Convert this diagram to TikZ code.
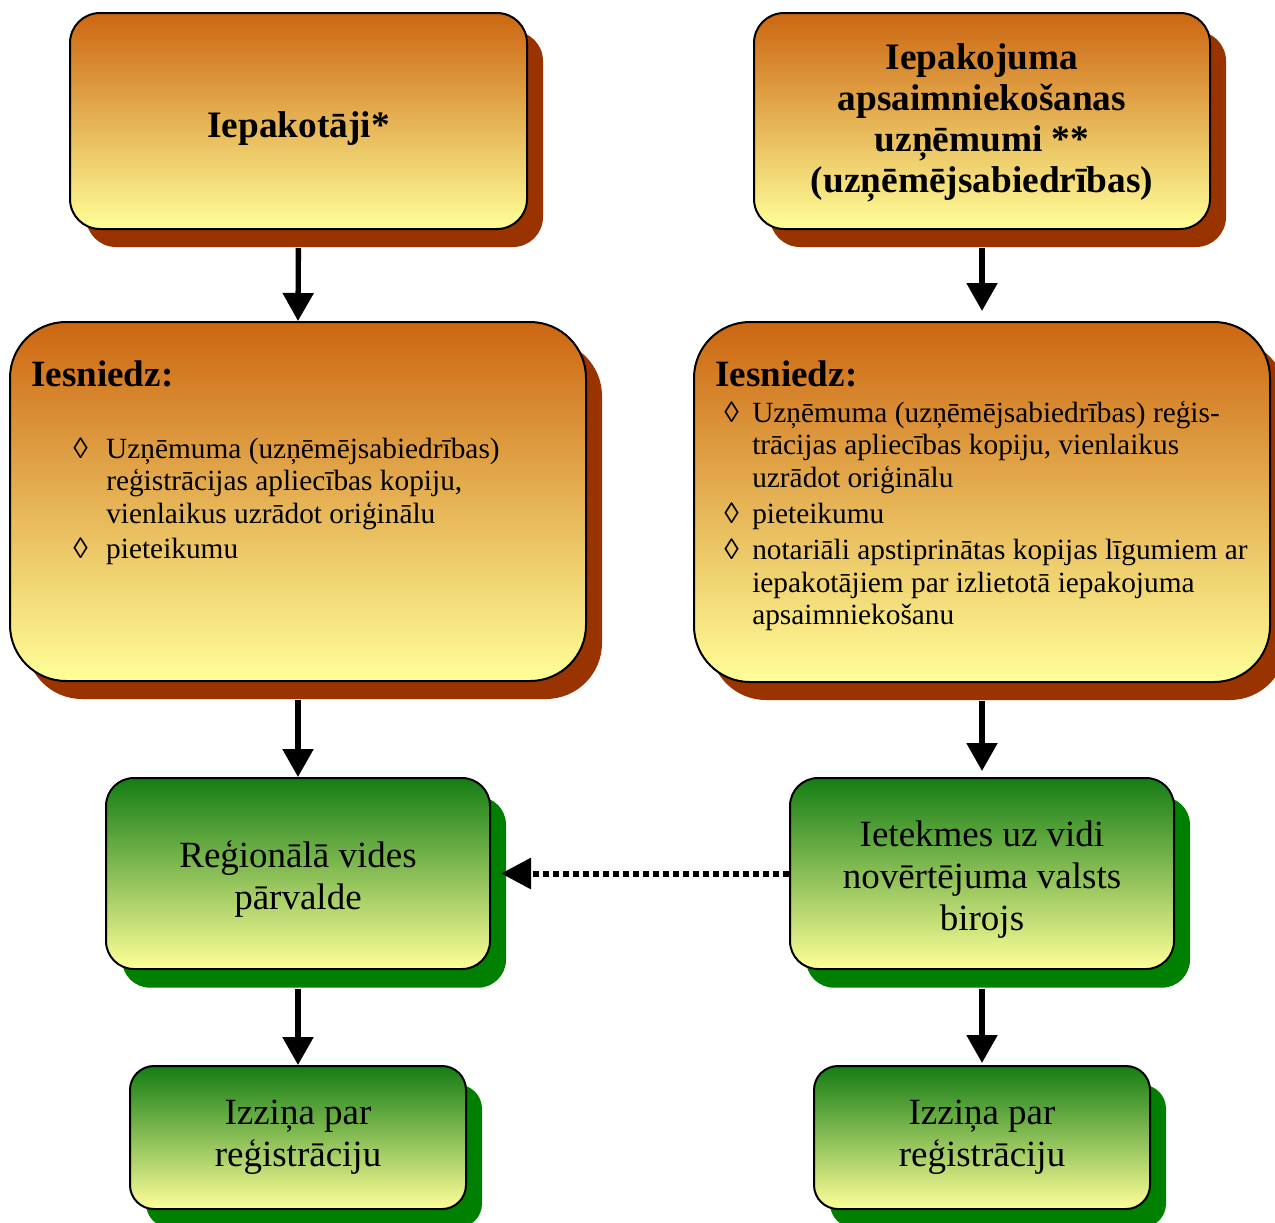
\documentclass[tikz,border=0pt]{standalone}
\usepackage{fontspec}
\setmainfont{Liberation Serif}
\usetikzlibrary{shadows,arrows.meta,calc}
\definecolor{orTop}{RGB}{204,102,17}
\definecolor{yelBot}{RGB}{255,255,153}
\definecolor{brownSh}{RGB}{153,51,0}
\definecolor{grTop}{RGB}{20,125,20}
\definecolor{greenSh}{RGB}{0,128,0}
\newcommand\titlef{\fontsize{28}{30.75}\selectfont\bfseries}
\newcommand\headf{\fontsize{27.8}{31}\selectfont\bfseries}
\newcommand\bodyf{\fontsize{22}{24.6}\selectfont}
\newcommand\greenf{\fontsize{27.75}{31.5}\selectfont}
\tikzset{
  basebox/.style={draw=black, line width=1.5pt, inner sep=0pt, align=center},
  orbox/.style={basebox, top color=orTop, bottom color=yelBot,
    general shadow={fill=brownSh, shadow xshift=12pt, shadow yshift=-13.5pt}},
  grbox/.style={basebox, top color=grTop, bottom color=yelBot,
    general shadow={fill=greenSh, shadow xshift=12pt, shadow yshift=-14pt}},
  arr/.style={-{Triangle[length=21pt,width=22.5pt]}, line width=4pt},
  dotarr/.style={-{Triangle[length=22.5pt,width=22.5pt]}, line width=4.5pt, dash pattern=on 4.5pt off 3pt},
  listtext/.style={anchor=base west, inner sep=0pt, font=\bodyf},
  boxtext/.style={inner sep=0pt, align=center}
}
\begin{document}
\begin{tikzpicture}[x=0.75pt,y=-0.75pt]
\useasboundingbox (0,0) rectangle (1275,1222);
\fill[white] (0,0) rectangle (1275,1222);

% top boxes
\node[orbox, rounded corners=22.5pt, minimum width=342.75pt, minimum height=162pt]
  (A) at (298.5,121) {};
\node[boxtext, font=\titlef] (At) at ($(A.center)+(0,8)$) {Iepakotāji*};
\node[orbox, rounded corners=22.5pt, minimum width=342pt, minimum height=162pt]
  (E) at (982,121) {};
\node[boxtext, font=\titlef] (Et) at ($(E.center)+(0,2)$)
  {Iepakojuma\\apsaimniekošanas\\uzņēmumi **\\(uzņēmējsabiedrības)};

% Iesniedz boxes
\node[orbox, rounded corners=42pt, minimum width=432pt, minimum height=269.25pt]
  (B) at (298,501.5) {};
\node[orbox, rounded corners=42pt, minimum width=432pt, minimum height=270pt]
  (F) at (982,502) {};

\node[anchor=base west, inner sep=0pt, font=\headf] (Bh) at (31,386) {Iesniedz:};
\node[listtext] (Bl) at (73,458) {\begin{tabular}[t]{@{}p{24.75pt}@{}l@{}}
◊ & Uzņēmuma (uzņēmējsabiedrības)\\
  & reģistrācijas apliecības kopiju,\\
  & vienlaikus uzrādot oriģinālu\\[1.5pt]
◊ & pieteikumu
\end{tabular}};

\node[anchor=base west, inner sep=0pt, font=\headf] (Fh) at (715,386) {Iesniedz:};
\node[listtext] (Fl) at (724,422) {\begin{tabular}[t]{@{}p{21pt}@{}l@{}}
◊ & Uzņēmuma (uzņēmējsabiedrības) reģis-\\
  & trācijas apliecības kopiju, vienlaikus\\
  & uzrādot oriģinālu\\[2.25pt]
◊ & pieteikumu\\[2.25pt]
◊ & notariāli apstiprinātas kopijas līgumiem ar\\
  & iepakotājiem par izlietotā iepakojuma\\
  & apsaimniekošanu
\end{tabular}};

% green boxes
\node[grbox, rounded corners=21pt, minimum width=288pt, minimum height=143.25pt]
  (C) at (298,873.5) {};
\node[boxtext, font=\greenf] (Ct) at ($(C.center)+(0,5)$) {Reģionālā vides\\pārvalde};
\node[grbox, rounded corners=21pt, minimum width=288pt, minimum height=143.25pt]
  (G) at (982,873.5) {};
\node[boxtext, font=\greenf] (Gt) at ($(G.center)+(0,6)$) {Ietekmes uz vidi\\novērtējuma valsts\\birojs};
\node[grbox, rounded corners=18pt, minimum width=252pt, minimum height=107.25pt]
  (D) at (298,1137.5) {};
\node[boxtext, font=\greenf] (Dt) at (D.center) {Izziņa par\\reģistrāciju};
\node[grbox, rounded corners=18pt, minimum width=252pt, minimum height=107.25pt]
  (H) at (982,1137.5) {};
\node[boxtext, font=\greenf] (Ht) at (H.center) {Izziņa par\\reģistrāciju};

% connectors
\draw[arr, shorten <=13.5pt] (A.south) -- (B.north);
\draw[arr, shorten <=13.5pt, shorten >=7.5pt] (E.south) -- (F.north);
\draw[arr, shorten <=13.5pt] (B.south) -- (C.north);
\draw[arr, shorten <=13.5pt, shorten >=4.5pt] (F.south) -- (G.north);
\draw[arr, shorten <=14pt] (C.south) -- (D.north);
\draw[arr, shorten <=14pt, shorten >=1.5pt] (G.south) -- (H.north);
\draw[dotarr, shorten >=7.5pt] (G.west) -- (C.east);
\end{tikzpicture}
\end{document}
